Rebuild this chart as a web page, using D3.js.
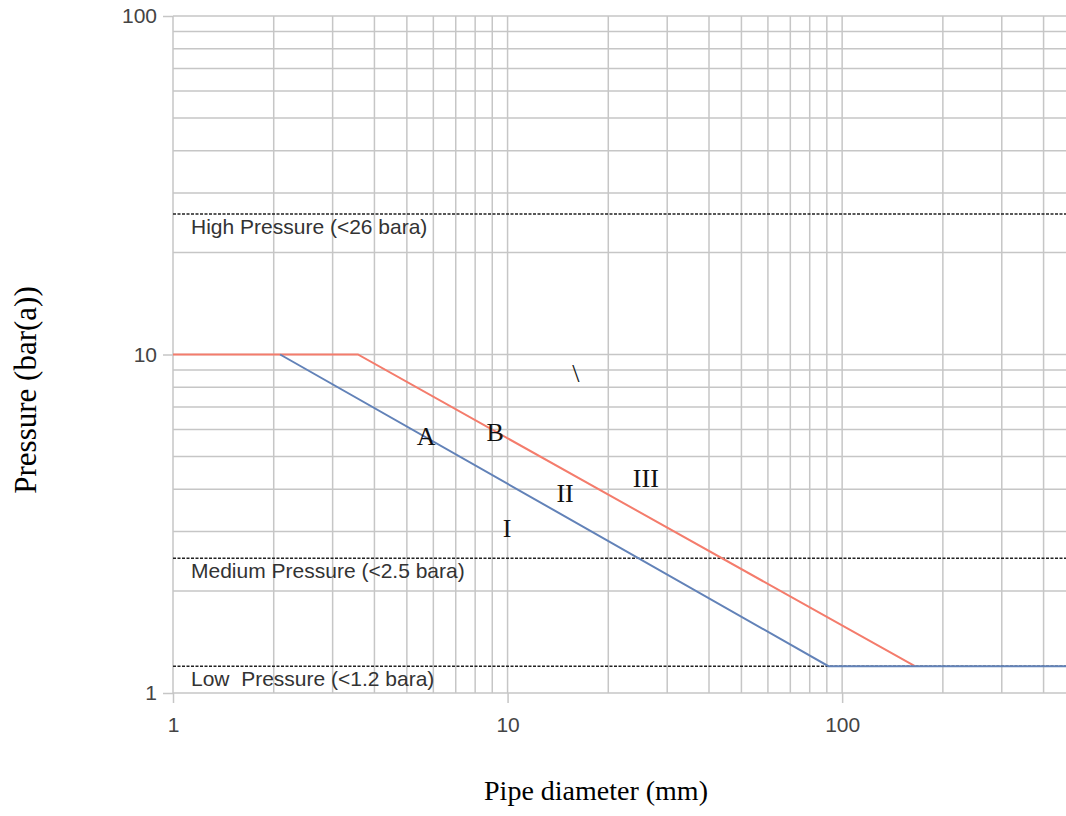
<!DOCTYPE html>
<html>
<head>
<meta charset="utf-8">
<script src="https://cdn.jsdelivr.net/npm/d3@7"></script>
<style>
  html, body { margin: 0; padding: 0; background: #fff; }
  svg { display: block; }
</style>
</head>
<body>
<svg id="chart" width="1066" height="816"></svg>
<script>
// ---- data ----
const xDomain = [1, 500];
const yDomain = [1, 100];
const xTickLabels = [1, 10, 100];
const yTickLabels = [1, 10, 100];

// line A (blue) and line B (red): [diameter mm, pressure bar(a)]
const lineA = [[2.09, 10], [91, 1.2], [500, 1.2]];
const lineB = [[1, 10], [3.57, 10], [165, 1.2]];

// pressure thresholds
const thresholds = [26, 2.5, 1.2];
const thresholdLabels = ["High Pressure (<26 bara)", "Medium Pressure (<2.5 bara)", "Low  Pressure (<1.2 bara)"];

// region annotations: [label, diameter, pressure]
const annotations = [
  ["A", 5.71, 5.40],
  ["B", 9.18, 5.55],
  ["I", 9.97, 2.89],
  ["II", 14.86, 3.67],
  ["III", 25.9, 4.06],
  ["\\", 16.0, 8.29]
];

// ---- layout ----
const svg = d3.select("#chart");
const x = d3.scaleLog().domain(xDomain).range([173, 1076]);
const y = d3.scaleLog().domain(yDomain).range([693, 16]);

const gridColor = "#c6c6c6";

// vertical grid
svg.append("g").selectAll("line").data(x.ticks())
  .join("line")
  .attr("x1", d => x(d)).attr("x2", d => x(d))
  .attr("y1", y(100)).attr("y2", y(1))
  .attr("stroke", gridColor).attr("stroke-width", 1.5);

// horizontal grid
svg.append("g").selectAll("line").data(y.ticks())
  .join("line")
  .attr("x1", x(1)).attr("x2", 1066)
  .attr("y1", d => y(d)).attr("y2", d => y(d))
  .attr("stroke", gridColor).attr("stroke-width", 1.5);

// axes (ticks and labels only)
const xAxis = d3.axisBottom(x).tickValues(xTickLabels).tickFormat(d3.format("d")).tickSize(10).tickPadding(14);
const gx = svg.append("g").attr("transform", `translate(0,${y(1)})`).call(xAxis);
gx.select(".domain").remove();
gx.selectAll(".tick line").attr("stroke", gridColor).attr("stroke-width", 1.5);
gx.selectAll(".tick text").attr("fill", "#444").attr("font-family", "Liberation Sans, Arial, sans-serif").attr("font-size", 21);

const yAxis = d3.axisLeft(y).tickValues(yTickLabels).tickFormat(d3.format("d")).tickSize(10).tickPadding(6);
const gy = svg.append("g").attr("transform", `translate(${x(1)},0)`).call(yAxis);
gy.select(".domain").remove();
gy.selectAll(".tick line").attr("stroke", gridColor).attr("stroke-width", 1.5);
gy.selectAll(".tick text").attr("fill", "#444").attr("font-family", "Liberation Sans, Arial, sans-serif").attr("font-size", 21);

// threshold dashed lines
svg.append("g").selectAll("line").data(thresholds)
  .join("line")
  .attr("x1", x(1)).attr("x2", 1066)
  .attr("y1", d => y(d)).attr("y2", d => y(d))
  .attr("stroke", "#222").attr("stroke-width", 1.4)
  .attr("stroke-dasharray", "3,1.5");

svg.append("g").selectAll("text").data(thresholds)
  .join("text")
  .attr("x", x(1) + 18)
  .attr("y", d => y(d) + 20)
  .attr("fill", "#333")
  .attr("font-family", "Liberation Sans, Arial, sans-serif")
  .attr("font-size", 21)
  .attr("xml:space", "preserve")
  .style("white-space", "pre")
  .text((d, i) => thresholdLabels[i]);

// curves
const line = d3.line().x(d => x(d[0])).y(d => y(d[1]));
svg.append("path").datum(lineB).attr("d", line)
  .attr("fill", "none").attr("stroke", "#f47c6c").attr("stroke-width", 2);
svg.append("path").datum(lineA).attr("d", line)
  .attr("fill", "none").attr("stroke", "#6282b8").attr("stroke-width", 2);

// annotations
svg.append("g").selectAll("text").data(annotations)
  .join("text")
  .attr("x", d => x(d[1]))
  .attr("y", d => y(d[2]))
  .attr("text-anchor", "middle")
  .attr("fill", "#111")
  .attr("font-family", "Liberation Serif, Times New Roman, serif")
  .attr("font-size", 26)
  .text(d => d[0]);

// axis titles
svg.append("text")
  .attr("x", 596).attr("y", 800)
  .attr("text-anchor", "middle")
  .attr("fill", "#000")
  .attr("font-family", "Liberation Serif, Times New Roman, serif")
  .attr("font-size", 28)
  .text("Pipe diameter (mm)");

svg.append("text")
  .attr("transform", "translate(36,390) rotate(-90)")
  .attr("text-anchor", "middle")
  .attr("fill", "#000")
  .attr("font-family", "Liberation Serif, Times New Roman, serif")
  .attr("font-size", 31)
  .text("Pressure (bar(a))");
</script>
</body>
</html>
